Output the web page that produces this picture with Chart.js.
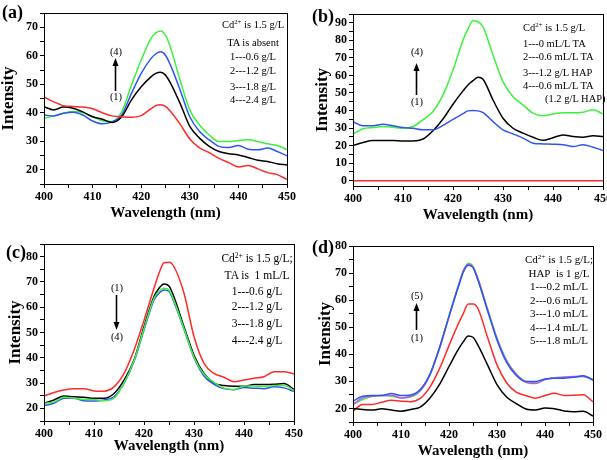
<!DOCTYPE html>
<html>
<head>
<meta charset="utf-8">
<script src="https://cdn.jsdelivr.net/npm/chart.js@4.4.1/dist/chart.umd.min.js"></script>
<style>
  html, body { margin:0; padding:0; background:#fff; }
  #wrap { position:relative; width:607px; height:460px; overflow:hidden; font-family:"Liberation Serif", "Times New Roman", serif; color:#000; }
  canvas { position:absolute; left:0; top:0; }
  .t { position:absolute; white-space:nowrap; line-height:1; }
  .t sup { font-size:0.65em; vertical-align:0.55em; line-height:0; }
  .pl { position:absolute; font-weight:bold; font-size:18px; line-height:1; }
  svg { position:absolute; left:0; top:0; }
</style>
</head>
<body>
<div id="wrap">
  <canvas id="ca" width="607" height="460"></canvas>
  <canvas id="cb" width="607" height="460"></canvas>
  <canvas id="cc" width="607" height="460"></canvas>
  <canvas id="cd" width="607" height="460"></canvas>
  <svg id="arrows" width="607" height="460"></svg>
</div>
<script>
// ---------------- DATA ----------------
const wavelength = [400,402,404,406,408,410,412,414,416,418,420,422,423,424,425,426,428,430,432,434,436,438,440,442,444,446,448,450];
const xTickLabels = [400,410,420,430,440,450];

// Panel (a): Cd2+ 1.5 g/L, TA absent
const a_curve1 = [45.6,43.8,42.5,42.2,42.0,41.4,40.0,38.9,38.6,38.4,39.0,41.4,42.5,42.8,42.2,40.5,36.0,30.8,27.7,26.0,24.0,22.5,21.0,21.5,20.3,19.0,18.3,16.6];
const a_curve2 = [42.1,41.0,42.0,41.6,40.3,38.6,37.7,36.6,38.6,44.5,49.1,52.6,53.8,54.2,53.2,50.5,43.3,35.2,31.1,28.2,26.4,25.6,25.2,24.3,23.3,22.9,22.1,21.7];
const a_curve3 = [39.2,38.9,39.8,40.2,39.2,37.1,36.1,36.8,39.2,46.8,53.8,59.0,60.7,61.4,60.2,56.8,48.0,38.6,33.4,30.5,28.2,27.8,28.5,27.2,27.0,27.6,26.4,24.9];
const a_curve4 = [38.1,38.9,39.8,40.4,40.0,38.6,37.2,36.9,40.4,49.7,58.5,66.0,68.0,68.7,67.2,63.0,51.5,41.0,35.7,32.2,29.9,29.9,30.3,30.5,29.9,29.1,28.5,27.0];
const a_yTicks = [20,30,40,50,60,70];

// Panel (b)
const b_curve1 = [0,0,0,0,0,0,0,0,0,0,0,0,0,0,0,0,0,0,0,0,0,0,0,0,0,0,0,0];
const b_curve2 = [20.1,21.8,22.9,22.9,22.9,22.7,22.7,23.8,28.5,35.2,43.6,51.2,54.6,57.0,58.9,57.8,46.0,35.6,29.9,27.1,24.8,23.0,24.5,26.1,25.2,24.8,25.6,25.2];
const b_curve3 = [33.7,31.3,31.3,32.2,31.3,30.3,29.9,29.0,29.0,31.5,35.0,38.2,39.8,40.0,39.8,38.8,33.7,29.0,26.7,24.3,21.4,21.0,20.8,20.5,19.5,20.5,19.1,17.2];
const b_curve4 = [26.7,29.6,30.3,30.9,30.5,29.9,30.9,34.7,39.4,48.9,63.1,80.1,86.5,91.1,90.6,87.7,71.6,56.5,47.9,43.2,38.5,37.0,38.0,38.8,38.7,39.0,40.4,38.1];
const b_yTicks = [0,10,20,30,40,50,60,70,80,90];

// Panel (c): TA 1 mL/L
const c_curve1 = [24.9,26.3,27.3,27.8,27.8,26.9,26.8,28.5,33.8,43.0,54.8,67.5,73.4,77.6,77.8,76.0,65.5,48.4,37.8,33.8,32.3,30.5,31.2,31.9,32.5,34.5,34.5,33.6];
const c_curve2 = [22.0,23.3,24.9,24.6,24.4,24.0,24.0,25.9,31.2,39.1,52.3,64.2,67.5,69.2,68.4,64.0,52.3,41.0,33.8,30.0,29.0,28.7,28.7,29.4,29.4,29.5,29.8,27.5];
const c_curve3 = [22.0,22.5,24.4,24.0,23.5,23.5,23.0,24.0,30.0,38.8,51.5,63.5,66.2,67.5,66.8,62.5,51.5,40.3,33.5,30.3,28.0,27.5,28.8,28.8,28.6,29.0,29.0,27.0];
const c_curve4 = [21.1,22.0,24.0,24.0,23.0,22.9,23.3,24.6,29.9,38.5,51.0,62.9,65.5,66.8,66.2,62.0,51.3,40.0,32.8,29.5,27.8,27.4,28.2,28.0,27.8,28.5,28.1,26.6];
const c_yTicks = [20,30,40,50,60,70,80];

// Panel (d): HAP 1 g/L
const d_curve1 = [20.0,19.6,19.4,19.9,19.4,19.0,19.6,20.5,23.8,28.8,35.5,42.0,44.7,46.8,46.3,43.5,36.2,28.8,24.2,21.8,19.8,19.4,20.2,19.9,19.1,18.8,19.0,17.2];
const d_curve2 = [19.0,21.5,21.5,22.3,23.0,22.7,22.5,23.7,27.8,34.6,43.2,51.5,55.1,58.6,58.6,57.0,46.5,36.1,29.5,26.0,24.8,23.8,24.8,25.6,24.8,24.9,25.1,22.4];
const d_curve3 = [22.7,24.5,24.8,24.8,25.5,24.8,25.0,27.0,32.5,42.3,54.0,65.2,70.4,72.9,72.0,67.5,56.3,45.3,37.0,32.2,30.0,30.0,30.9,31.2,31.2,31.5,32.1,30.4];
const d_curve4 = [21.5,23.9,24.5,24.8,24.9,23.9,24.5,26.5,32.2,42.0,53.8,65.5,70.8,73.3,72.3,68.0,56.7,45.7,37.5,32.6,29.7,29.2,30.7,31.3,31.6,31.8,31.8,30.6];
const d_curve5 = [21.5,23.3,24.5,24.8,24.5,23.9,24.2,26.5,32.5,42.3,54.2,65.8,71.0,73.6,72.5,68.2,57.0,46.1,37.8,32.8,30.0,29.6,30.8,31.3,31.5,31.6,31.9,30.8];
const d_yTicks = [20,30,40,50,60,70,80];

// Annotation texts
const a_notes = ["Cd<sup>2+</sup> is 1.5 g/L","TA is absent","1---0.6 g/L","2---1.2 g/L","3---1.8 g/L","4---2.4 g/L"];
const b_notes = ["Cd<sup>2+</sup> is 1.5 g/L","1---0 mL/L TA","2---0.6 mL/L TA","3---1.2 g/L HAP","4---0.6 mL/L TA","(1.2 g/L HAP)"];
const c_notes = ["Cd<sup>2+</sup> is 1.5 g/L;","TA is&nbsp; 1 mL/L","1---0.6 g/L","2---1.2 g/L","3---1.8 g/L","4---2.4 g/L"];
const d_notes = ["Cd<sup>2+</sup> is 1.5 g/L;","HAP&nbsp; is 1 g/L","1---0.2 mL/L","2---0.6 mL/L","3---1.0 mL/L","4---1.4 mL/L","5---1.8 mL/L"];

// ---------------- STYLE ----------------
const RED = '#ff2a2a', GREEN = '#3ef03e', BLUE = '#2f55f0', BLACK = '#000000', PURPLE = '#c455f0';
Chart.defaults.font.family = '"Liberation Serif", "Times New Roman", serif';
Chart.defaults.color = '#000';
Chart.defaults.animation = false;

const frame = {
  id: 'frame',
  afterDraw(chart) {
    const {ctx, chartArea: c} = chart;
    ctx.save();
    ctx.strokeStyle = '#000';
    ctx.lineWidth = 1;
    ctx.strokeRect(Math.round(c.left) + 0.5, Math.round(c.top) + 0.5, Math.round(c.right - c.left), Math.round(c.bottom - c.top));
    ctx.restore();
  }
};

function series(vals, color) {
  return {
    data: wavelength.map((x, i) => ({x, y: vals[i]})),
    borderColor: color, borderWidth: 1.5, pointRadius: 0,
    tension: 0.4, cubicInterpolationMode: 'monotone', fill: false
  };
}

function makeChart(id, datasets, yMin, yMax, yTicks, box) {
  const yTitleFont = 17, xTitleFont = 15;
  const yScaleLeft = box.yTitleX - yTitleFont / 2;
  const yScaleWidth = box.L - yScaleLeft;
  const xScaleBottom = box.xTitleY + xTitleFont / 2;
  const xScaleHeight = xScaleBottom - box.B;
  return new Chart(document.getElementById(id), {
    type: 'line',
    data: { datasets },
    options: {
      responsive: false,
      animation: false,
      layout: { padding: { left: yScaleLeft, right: 607 - box.R, top: box.T, bottom: 460 - xScaleBottom } },
      plugins: { legend: { display: false }, tooltip: { enabled: false } },
      scales: {
        x: {
          type: 'linear', min: 400, max: 450,
          ticks: {
            stepSize: 5, autoSkip: false, maxRotation: 0, padding: 2, includeBounds: false,
            font: { size: 12, weight: 'bold' },
            callback: v => xTickLabels.includes(v) ? String(v) : ''
          },
          grid: { drawOnChartArea: false, drawTicks: true, tickLength: 4, color: '#000' },
          border: { display: true, color: '#000', width: 1 },
          title: { display: true, text: 'Wavelength (nm)', font: { size: xTitleFont, weight: 'bold', lineHeight: 1 }, padding: 0 },
          afterFit(s) { s.height = xScaleHeight; s.paddingLeft = 0; s.paddingRight = 0; }
        },
        y: {
          type: 'linear', min: yMin, max: yMax,
          ticks: {
            stepSize: 5, autoSkip: false, padding: 2, includeBounds: false,
            font: { size: 12, weight: 'bold' },
            callback: v => yTicks.includes(v) ? String(v) : ''
          },
          grid: { drawOnChartArea: false, drawTicks: true, tickLength: 4, color: '#000' },
          border: { display: true, color: '#000', width: 1 },
          title: { display: true, text: 'Intensity', font: { size: yTitleFont, weight: 'bold', lineHeight: 1 }, padding: 0 },
          afterFit(s) { s.width = yScaleWidth; s.paddingTop = 0; s.paddingBottom = 0; }
        }
      }
    },
    plugins: [frame]
  });
}

makeChart('ca', [series(a_curve1, RED), series(a_curve2, BLACK), series(a_curve3, BLUE), series(a_curve4, GREEN)],
  15, 75, a_yTicks, { L: 44, R: 287, T: 13, B: 184, yTitleX: 8.5, xTitleY: 213.5 });
makeChart('cb', [series(b_curve1, RED), series(b_curve3, BLUE), series(b_curve2, BLACK), series(b_curve4, GREEN)],
  -3, 95, b_yTicks, { L: 353, R: 603, T: 14, B: 186, yTitleX: 323, xTitleY: 215 });
makeChart('cc', [series(c_curve3, GREEN), series(c_curve4, BLUE), series(c_curve2, BLACK), series(c_curve1, RED)],
  15, 85, c_yTicks, { L: 44, R: 294, T: 244, B: 421, yTitleX: 15.5, xTitleY: 446 });
makeChart('cd', [series(d_curve1, BLACK), series(d_curve2, RED), series(d_curve3, BLUE), series(d_curve4, PURPLE), series(d_curve5, GREEN)],
  15, 80, d_yTicks, { L: 353, R: 593, T: 246, B: 422, yTitleX: 326, xTitleY: 451 });

// ---------------- TEXT ANNOTATIONS ----------------
const wrap = document.getElementById('wrap');
function addText(html, x, yc, size, align) {
  const d = document.createElement('div');
  d.className = 't';
  d.innerHTML = html;
  d.style.fontSize = size + 'px';
  d.style.top = (yc - size / 2) + 'px';
  if (align === 'center') { d.style.left = x + 'px'; d.style.transform = 'translateX(-50%)'; }
  else if (align === 'right') { d.style.right = (607 - x) + 'px'; }
  else { d.style.left = x + 'px'; }
  wrap.appendChild(d);
}
[25, 43, 57, 71, 87, 100].forEach((y, i) => addText(a_notes[i], 253, y, 10.5, 'center'));
[28, 44, 57, 73, 86, 99].forEach((y, i) => addText(b_notes[i], i === 5 ? 545 : 523, y, 10.5, 'left'));
[259, 276, 292, 307, 324, 341].forEach((y, i) => addText(c_notes[i], 257, y, 11.5, 'center'));
[259, 273, 286, 300, 313, 327, 340].forEach((y, i) => addText(d_notes[i], 559, y, 11, 'center'));

// arrow labels
addText('(4)', 116, 52.5, 10.5, 'center'); addText('(1)', 116, 97.5, 10.5, 'center');
addText('(4)', 417, 52, 10.5, 'center');   addText('(1)', 417, 102, 10.5, 'center');
addText('(1)', 117, 288, 10.5, 'center');  addText('(4)', 117, 337, 10.5, 'center');
addText('(5)', 417, 296, 10.5, 'center');  addText('(1)', 417, 338, 10.5, 'center');

// panel labels
function panelLabel(t, x, yc) {
  const d = document.createElement('div');
  d.className = 'pl'; d.textContent = t;
  d.style.left = x + 'px'; d.style.top = (yc - 9) + 'px';
  wrap.appendChild(d);
}
panelLabel('(a)', 2, 12); panelLabel('(b)', 312, 16); panelLabel('(c)', 6, 252); panelLabel('(d)', 312, 247);

// arrows (svg)
const svg = document.getElementById('arrows');
function arrow(x, yFrom, yTo) {
  const dir = yTo < yFrom ? 1 : -1;
  const ns = 'http://www.w3.org/2000/svg';
  const l = document.createElementNS(ns, 'line');
  l.setAttribute('x1', x); l.setAttribute('x2', x);
  l.setAttribute('y1', yFrom); l.setAttribute('y2', yTo + dir * 6);
  l.setAttribute('stroke', '#000'); l.setAttribute('stroke-width', '1.6');
  svg.appendChild(l);
  const p = document.createElementNS(ns, 'polygon');
  p.setAttribute('points', `${x},${yTo} ${x - 3},${yTo + dir * 8} ${x + 3},${yTo + dir * 8}`);
  p.setAttribute('fill', '#000');
  svg.appendChild(p);
}
arrow(115.5, 91, 58);
arrow(416.5, 95, 63);
arrow(116.5, 295, 330);
arrow(416.5, 330, 303);
</script>
</body>
</html>
